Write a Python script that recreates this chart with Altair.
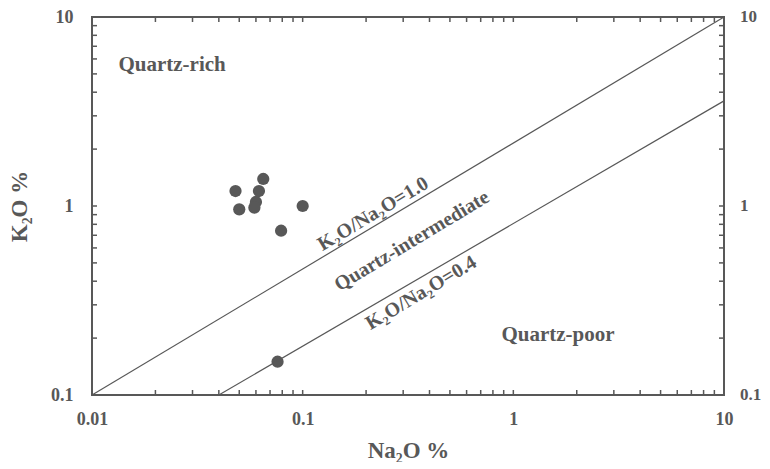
import altair as alt
import pandas as pd

# sample data
na2o = [0.048, 0.050, 0.065, 0.062, 0.060, 0.059, 0.100, 0.079, 0.076]
k2o = [1.20, 0.96, 1.39, 1.20, 1.05, 0.98, 1.00, 0.74, 0.15]

# boundary lines
line_id = ["r1", "r1", "r04", "r04"]
line_x = [0.01, 10, 0.04, 10]
line_y = [0.1, 10, 0.1, 3.6]

# field labels
lab_text = ["Quartz-rich", "Quartz-poor"]
lab_x = [0.024, 1.63]
lab_y = [5.6, 0.207]

rot_text = ["K\u2082O/Na\u2082O=1.0", "Quartz-intermediate", "K\u2082O/Na\u2082O=0.4"]
rot_x = [0.216, 0.330, 0.365]
rot_y = [0.908, 0.653, 0.347]

x_ticks = [0.01, 0.02, 0.03, 0.04, 0.05, 0.06, 0.07, 0.08, 0.09,
           0.1, 0.2, 0.3, 0.4, 0.5, 0.6, 0.7, 0.8, 0.9,
           1, 2, 3, 4, 5, 6, 7, 8, 9, 10]
y_ticks = [0.1, 0.2, 0.3, 0.4, 0.5, 0.6, 0.7, 0.8, 0.9,
           1, 2, 3, 4, 5, 6, 7, 8, 9, 10]
right_vals = [0.1, 1, 10]
right_text = ["0.1", "1", "10"]

FONT = "Liberation Serif"
GREY = "#585858"
W, H = 632, 378
TK = 5  # inward tick length

pts = pd.DataFrame({"x": na2o, "y": k2o})
lines = pd.DataFrame({"id": line_id, "x": line_x, "y": line_y})
labs = pd.DataFrame({"t": lab_text, "x": lab_x, "y": lab_y})
rots = pd.DataFrame({"t": rot_text, "x": rot_x, "y": rot_y})
xt = pd.DataFrame({"tx": x_ticks})
yt = pd.DataFrame({"ty": y_ticks})
rl = pd.DataFrame({"v": right_vals, "t": right_text})

xs = alt.Scale(type="log", domain=[0.01, 10])
ys = alt.Scale(type="log", domain=[0.1, 10])
lab_expr = "indexof(['0.01','0.1','1','10'], datum.label) >= 0 ? datum.label : ''"

common = dict(domain=False, grid=False, ticks=True, tickSize=5, tickOpacity=0,
              offset=-5, labelFont=FONT, labelFontWeight="bold", labelFontSize=18,
              labelColor=GREY, labelOverlap=False, labelFlush=False, format="~g",
              labelExpr=lab_expr, titleFont=FONT, titleFontWeight="bold",
              titleFontSize=23, titleColor=GREY)

x_bottom = alt.Axis(orient="bottom", values=x_ticks, title="Na\u2082O %", labelPadding=15,
                    titleY=60, titleBaseline="middle", **common)
y_left = alt.Axis(orient="left", values=y_ticks, title="K\u2082O %", labelPadding=19,
                  titleX=-78, titleY=H / 2, titleAngle=270, titleBaseline="middle",
                  titleAlign="center", **common)

pt_layer = alt.Chart(pts).mark_circle(size=150, color=GREY, opacity=1).encode(
    x=alt.X("x:Q", scale=xs, axis=x_bottom),
    y=alt.Y("y:Q", scale=ys, axis=y_left),
)

line_layer = alt.Chart(lines).mark_line(color=GREY, strokeWidth=1.2).encode(
    x=alt.X("x:Q", scale=xs),
    y=alt.Y("y:Q", scale=ys),
    detail="id:N",
)

rule = dict(color=GREY, strokeWidth=1.5)
tick_bottom = alt.Chart(xt).mark_rule(**rule).encode(
    x=alt.X("tx:Q", scale=xs), y=alt.value(H), y2=alt.value(H - TK))
tick_top = alt.Chart(xt).mark_rule(**rule).encode(
    x=alt.X("tx:Q", scale=xs), y=alt.value(0), y2=alt.value(TK))
tick_left = alt.Chart(yt).mark_rule(**rule).encode(
    y=alt.Y("ty:Q", scale=ys), x=alt.value(0), x2=alt.value(TK))
tick_right = alt.Chart(yt).mark_rule(**rule).encode(
    y=alt.Y("ty:Q", scale=ys), x=alt.value(W), x2=alt.value(W - TK))

lab_layer = alt.Chart(labs).mark_text(font=FONT, fontWeight="bold", fontSize=21,
                                      color=GREY).encode(
    x=alt.X("x:Q", scale=xs),
    y=alt.Y("y:Q", scale=ys),
    text="t:N",
)

rot_layer = alt.Chart(rots).mark_text(font=FONT, fontWeight="bold", fontSize=20,
                                      color=GREY, angle=329).encode(
    x=alt.X("x:Q", scale=xs),
    y=alt.Y("y:Q", scale=ys),
    text="t:N",
)

right_labels = alt.Chart(rl).mark_text(font=FONT, fontWeight="bold", fontSize=17,
                                       color=GREY, align="left", baseline="middle").encode(
    y=alt.Y("v:Q", scale=ys),
    x=alt.value(W + 16),
    text="t:N",
)

chart = alt.layer(pt_layer, tick_bottom, tick_top, tick_left, tick_right,
                  line_layer, lab_layer, rot_layer, right_labels).properties(
    width=W, height=H,
    padding={"left": 0, "top": 0, "right": 0, "bottom": 0},
).configure_view(stroke=GREY, strokeWidth=2)

chart.save("out.html", embed_options={"renderer": "svg", "actions": False})
